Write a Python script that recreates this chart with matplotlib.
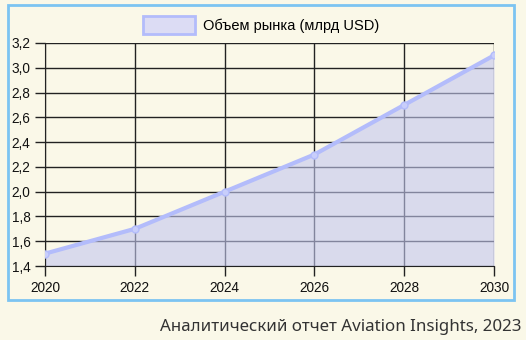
import matplotlib.pyplot as plt
from matplotlib.patches import Rectangle

years = [2020, 2022, 2024, 2026, 2028, 2030]
market = [1.5, 1.7, 2.0, 2.3, 2.7, 3.1]
y_ticks = [1.4, 1.6, 1.8, 2.0, 2.2, 2.4, 2.6, 2.8, 3.0, 3.2]
y_labels = [f"{v:.1f}".replace(".", ",") for v in y_ticks]

bg = "#faf8e8"
line_col = "#b3bcfb"

fig = plt.figure(figsize=(5.26, 3.40), dpi=100, facecolor=bg)
ax = fig.add_axes([45 / 526, 1 - 266 / 340, 449 / 526, 223 / 340])
ax.set_facecolor(bg)

# рамка вокруг графика
fig.patches.append(Rectangle((8 / 526, 1 - 300 / 340), 506 / 526, 295 / 340,
                             transform=fig.transFigure, fill=False,
                             edgecolor="#7cc4f2", linewidth=2))

ax.grid(True, color="#222222", linewidth=1)
ax.set_axisbelow(True)
ax.fill_between(years, market, 1.4, color="#c3c6ef", alpha=0.6, zorder=2,
                linewidth=0, label="Объем рынка (млрд USD)")
ax.plot(years, market, color=line_col, linewidth=3, marker="o", markersize=5,
        markerfacecolor="#c8cefb", zorder=3)

ax.set_xlim(2020, 2030)
ax.set_ylim(1.4, 3.2)
ax.set_xticks(years)
ax.set_yticks(y_ticks)
ax.set_yticklabels(y_labels)
for s in ["top", "right"]:
    ax.spines[s].set_visible(False)
for s in ["left", "bottom"]:
    ax.spines[s].set_color("#222222")
ax.tick_params(length=7, width=1, color="#222222", labelsize=9.8,
               labelcolor="#111111")
for lab in ax.get_xticklabels() + ax.get_yticklabels():
    lab.set_family("Liberation Sans")

leg_handle = Rectangle((0, 0), 1, 1, facecolor="#dcdcf4", edgecolor=line_col,
                       linewidth=2)
fig.legend([leg_handle], ["Объем рынка (млрд USD)"], loc="center",
           bbox_to_anchor=(261 / 526, 1 - 25 / 340), frameon=False,
           prop={"family": "Liberation Sans", "size": 10.5},
           handlelength=3.6, handleheight=1.5, handletextpad=0.5)

fig.text(522 / 526, 1 - 327 / 340, "Аналитический отчет Aviation Insights, 2023",
         ha="right", va="center", fontsize=12.2, color="#333333",
         family="Noto Sans")

fig.savefig("out.png", dpi=100, facecolor=bg)
